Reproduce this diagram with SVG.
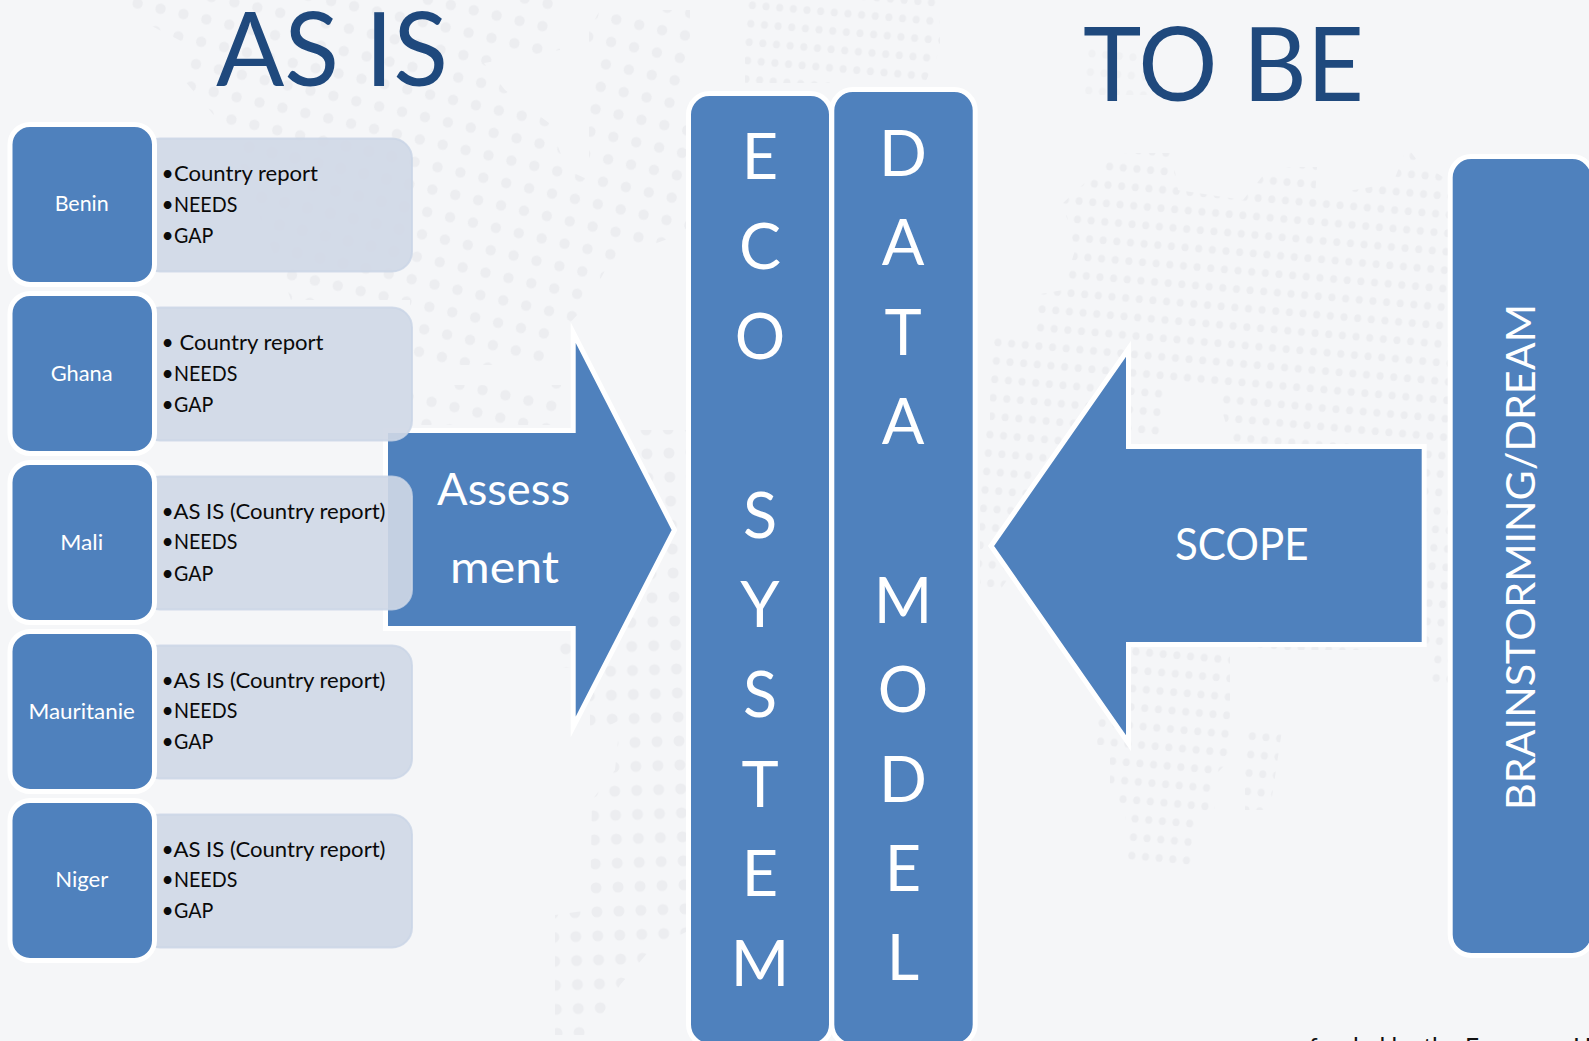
<svg xmlns="http://www.w3.org/2000/svg" width="1589" height="1041" viewBox="0 0 1589 1041">
<style>
text{font-family:"Lato","Carlito","Liberation Sans",sans-serif}
.blue{fill:#4F81BD;stroke:#fff;stroke-width:5;stroke-miterlimit:12}
.light{fill:#D0D7E6;fill-opacity:.91;stroke:#C9D4E6;stroke-opacity:.8;stroke-width:2}
.name{fill:#fff;font-size:21px;text-anchor:middle}
.li{fill:#0a0a0a;font-size:21px}
.big{fill:#fff;font-size:63px;text-anchor:middle}
.head{fill:#1F497D;font-size:103px}
.lab{fill:#fff;font-size:44px}
</style>
<defs>
<pattern id="pA" width="23.5" height="23" patternUnits="userSpaceOnUse" patternTransform="translate(4 8) rotate(13)"><circle cx="11.7" cy="11.5" r="5.2" fill="#ECEDF0"/></pattern>
<pattern id="pL" width="22" height="24" patternUnits="userSpaceOnUse" patternTransform="translate(4 8) rotate(-2)"><circle cx="11" cy="12" r="5.5" fill="#ECEDF0"/></pattern>
<pattern id="pB" width="13.7" height="18.5" patternUnits="userSpaceOnUse" patternTransform="translate(3 5) rotate(5)"><ellipse cx="6.8" cy="9" rx="3.5" ry="4" fill="#ECEDF0"/></pattern>
</defs>
<rect id="background" width="1589" height="1041" fill="#F5F6F8"/>
<g id="map">
<path fill="url(#pA)" d="M125 0H560V50L484 63L505 90L549 123L567 170L589 180V30L600 10H690V240H665L629 253L607 267L585 307L556 337V365H410V300H291L229 133L178 73L185 43L130 15ZM411 385H565V425H411Z"/>
<path fill="url(#pL)" d="M630 430H690V930L650 950L620 985L590 1035H555V915L590 910L592 800L615 770L620 720L590 735V690L640 600L670 530ZM552 628H572V668H552Z"/>
<path fill="url(#pB)" d="M745 0H940V50L925 83H745Z"/>
<path fill="url(#pB)" opacity=".6" d="M1085 45H1150V95H1085Z"/>
<path fill="url(#pB)" fill-rule="evenodd" d="M990 337L1035 330V295L1063 290L1075 250L1063 203L1117 153H1172L1178 190L1243 200L1270 167H1317L1315 197L1393 183L1407 147L1417 160L1452 183V690H1432V650H1130V450H1100L1000 590H980V440L990 420ZM1163 385H1215L1232 446H1163Z"/>
<path fill="url(#pB)" d="M1130 645H1230V760L1215 775V810L1195 820V865H1125V815L1110 790V745L1097 745V715H1130ZM1245 730H1282L1270 810H1245Z"/>
</g>
<g id="connectors">
<g id="assessment-arrow">
<path class="blue" d="M385.5 430.5H573.2V332.7L674.5 530L573.2 727V628.5H385.5Z"/>
<text class="lab" x="437" y="505" textLength="133" lengthAdjust="spacingAndGlyphs">Assess</text>
<text class="lab" x="450" y="582.7" textLength="109" lengthAdjust="spacingAndGlyphs">ment</text>
</g>
<g id="scope-arrow">
<path class="blue" d="M991 546L1128.5 348.8V446.5H1424.2V644.5H1128.5V743.2Z"/>
<text class="lab" x="1175" y="560.4" font-size="46" textLength="133.5" lengthAdjust="spacingAndGlyphs">SCOPE</text>
</g>
</g>
<text id="as-is" class="head" x="216" y="86" textLength="232" lengthAdjust="spacingAndGlyphs">AS IS</text>
<text id="to-be" class="head" x="1083" y="100.7" textLength="281" lengthAdjust="spacingAndGlyphs">TO BE</text>
<g id="benin">
<rect class="light" x="140" y="138.5" width="272" height="133" rx="20"/>
<rect class="blue" x="10" y="124.5" width="144.5" height="160" rx="20"/>
<text class="name" x="81.7" y="211" textLength="54" lengthAdjust="spacingAndGlyphs">Benin</text>
<text class="li" y="181"><tspan x="161.5">•</tspan><tspan x="174" textLength="144" lengthAdjust="spacingAndGlyphs">Country report</tspan></text>
<text class="li" y="211.7"><tspan x="161.5">•</tspan><tspan x="174" textLength="63.3" lengthAdjust="spacingAndGlyphs">NEEDS</tspan></text>
<text class="li" y="242.7"><tspan x="161.5">•</tspan><tspan x="174" textLength="39.3" lengthAdjust="spacingAndGlyphs">GAP</tspan></text>
</g>
<g id="ghana" transform="translate(0 169)">
<rect class="light" x="140" y="138.5" width="272" height="133" rx="20"/>
<rect class="blue" x="10" y="124.5" width="144.5" height="160" rx="20"/>
<text class="name" x="81.7" y="212" textLength="62" lengthAdjust="spacingAndGlyphs">Ghana</text>
<text class="li" y="181"><tspan x="161.5">• </tspan><tspan x="179.5" textLength="144" lengthAdjust="spacingAndGlyphs">Country report</tspan></text>
<text class="li" y="211.7"><tspan x="161.5">•</tspan><tspan x="174" textLength="63.3" lengthAdjust="spacingAndGlyphs">NEEDS</tspan></text>
<text class="li" y="242.7"><tspan x="161.5">•</tspan><tspan x="174" textLength="39.3" lengthAdjust="spacingAndGlyphs">GAP</tspan></text>
</g>
<g id="mali" transform="translate(0 338)">
<rect class="light" x="140" y="138.5" width="272" height="133" rx="20"/>
<rect class="blue" x="10" y="124.5" width="144.5" height="160" rx="20"/>
<text class="name" x="81.7" y="211.5" textLength="43" lengthAdjust="spacingAndGlyphs">Mali</text>
<text class="li" y="181"><tspan x="161.5">•</tspan><tspan x="173.5" textLength="212" lengthAdjust="spacingAndGlyphs">AS IS (Country report)</tspan></text>
<text class="li" y="211"><tspan x="161.5">•</tspan><tspan x="174" textLength="63.3" lengthAdjust="spacingAndGlyphs">NEEDS</tspan></text>
<text class="li" y="242.7"><tspan x="161.5">•</tspan><tspan x="174" textLength="39.3" lengthAdjust="spacingAndGlyphs">GAP</tspan></text>
</g>
<g id="mauritanie" transform="translate(0 507)">
<rect class="light" x="140" y="138.5" width="272" height="133" rx="20"/>
<rect class="blue" x="10" y="124.5" width="144.5" height="160" rx="20"/>
<text class="name" x="81.7" y="211.5" textLength="106.5" lengthAdjust="spacingAndGlyphs">Mauritanie</text>
<text class="li" y="181"><tspan x="161.5">•</tspan><tspan x="173.5" textLength="212" lengthAdjust="spacingAndGlyphs">AS IS (Country report)</tspan></text>
<text class="li" y="211"><tspan x="161.5">•</tspan><tspan x="174" textLength="63.3" lengthAdjust="spacingAndGlyphs">NEEDS</tspan></text>
<text class="li" y="242"><tspan x="161.5">•</tspan><tspan x="174" textLength="39.3" lengthAdjust="spacingAndGlyphs">GAP</tspan></text>
</g>
<g id="niger" transform="translate(0 676)">
<rect class="light" x="140" y="138.5" width="272" height="133" rx="20"/>
<rect class="blue" x="10" y="124.5" width="144.5" height="160" rx="20"/>
<text class="name" x="81.7" y="211" textLength="53" lengthAdjust="spacingAndGlyphs">Niger</text>
<text class="li" y="181"><tspan x="161.5">•</tspan><tspan x="173.5" textLength="212" lengthAdjust="spacingAndGlyphs">AS IS (Country report)</tspan></text>
<text class="li" y="211"><tspan x="161.5">•</tspan><tspan x="174" textLength="63.3" lengthAdjust="spacingAndGlyphs">NEEDS</tspan></text>
<text class="li" y="242"><tspan x="161.5">•</tspan><tspan x="174" textLength="39.3" lengthAdjust="spacingAndGlyphs">GAP</tspan></text>
</g>
<g id="eco-system">
<rect class="blue" x="688.5" y="93.5" width="143" height="952" rx="21"/>
<text class="big" y="179.3"><tspan x="760">E</tspan><tspan x="760" y="268.9">C</tspan><tspan x="760" y="358.5">O</tspan><tspan x="760" y="537.7">S</tspan><tspan x="760" y="627.3">Y</tspan><tspan x="760" y="716.9">S</tspan><tspan x="760" y="806.5">T</tspan><tspan x="760" y="896.1">E</tspan><tspan x="760" y="985.7">M</tspan></text>
</g>
<g id="data-model">
<rect class="blue" x="831.8" y="89.5" width="143.4" height="956" rx="21"/>
<text class="big" y="175.7"><tspan x="903">D</tspan><tspan x="903" y="265.1">A</tspan><tspan x="903" y="354.5">T</tspan><tspan x="903" y="443.9">A</tspan><tspan x="903" y="622.7">M</tspan><tspan x="903" y="712.1">O</tspan><tspan x="903" y="801.5">D</tspan><tspan x="903" y="890.9">E</tspan><tspan x="903" y="980.3">L</tspan></text>
</g>
<g id="brainstorming">
<rect class="blue" x="1450.2" y="156.5" width="143" height="799" rx="21"/>
<text transform="translate(1535 810) rotate(-90)" x="0" y="0" fill="#fff" font-size="41" textLength="506" lengthAdjust="spacingAndGlyphs">BRAINSTORMING/DREAM</text>
</g>
<text id="footer" x="1309" y="1056" fill="#111" font-size="24.5">funded by the European Union</text>
</svg>
